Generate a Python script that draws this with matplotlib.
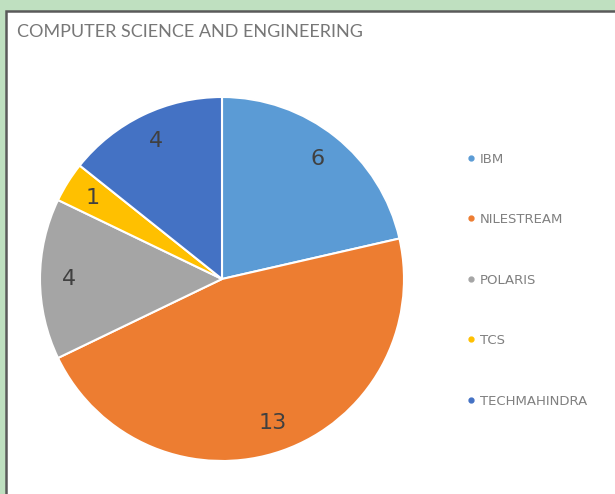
import matplotlib
matplotlib.use("Agg")
import matplotlib.pyplot as plt
from matplotlib.patches import Rectangle
from matplotlib.lines import Line2D

categories = ["IBM", "NILESTREAM", "POLARIS", "TCS", "TECHMAHINDRA"]
values = [6, 13, 4, 1, 4]
colors = ["#5B9BD5", "#ED7D31", "#A5A5A5", "#FFC000", "#4472C4"]
title = "COMPUTER SCIENCE AND ENGINEERING"

W, H = 615, 494
fig = plt.figure(figsize=(W / 100, H / 100), dpi=100)
fig.patch.set_facecolor("#BFE0C0")

# white panel with dark border
fig.patches.append(Rectangle((6 / W, -0.05), 1.2, (H - 11) / H + 0.05,
                             transform=fig.transFigure, facecolor="white",
                             edgecolor="#5a5a5a", linewidth=1.8, zorder=-5))

fig.text(17 / W, 1 - 32 / H, title, fontsize=13, family=["Lato", "DejaVu Sans"],
         color="#777777", va="center", ha="left")

cx, cy, r = 222, 279, 182
ax = fig.add_axes([(cx - r) / W, (H - cy - r) / H, 2 * r / W, 2 * r / H])
ax.set_zorder(2)
total = sum(values)
wedges, texts, autotexts = ax.pie(
    values, colors=colors, startangle=90, counterclock=False,
    wedgeprops=dict(edgecolor="white", linewidth=1.5),
    autopct=lambda p: f"{round(p * total / 100)}", pctdistance=0.84,
    textprops=dict(fontsize=16, color="#404040"))
ax.set_xlim(-1, 1)
ax.set_ylim(-1, 1)
ax.set_aspect("equal")
ax.axis("off")

handles = [Line2D([], [], marker="o", linestyle="none", markersize=3.5,
                  markerfacecolor=c, markeredgecolor=c) for c in colors]
leg = fig.legend(handles, categories, loc="center left",
                 bbox_to_anchor=(466 / W, 1 - 280 / H), frameon=False,
                 fontsize=9.5, labelcolor="#808080", handlelength=0.7,
                 handletextpad=0.35, labelspacing=3.6, borderpad=0,
                 borderaxespad=0)
leg.set_zorder(3)

fig.savefig("out.png", dpi=100, facecolor=fig.get_facecolor())
